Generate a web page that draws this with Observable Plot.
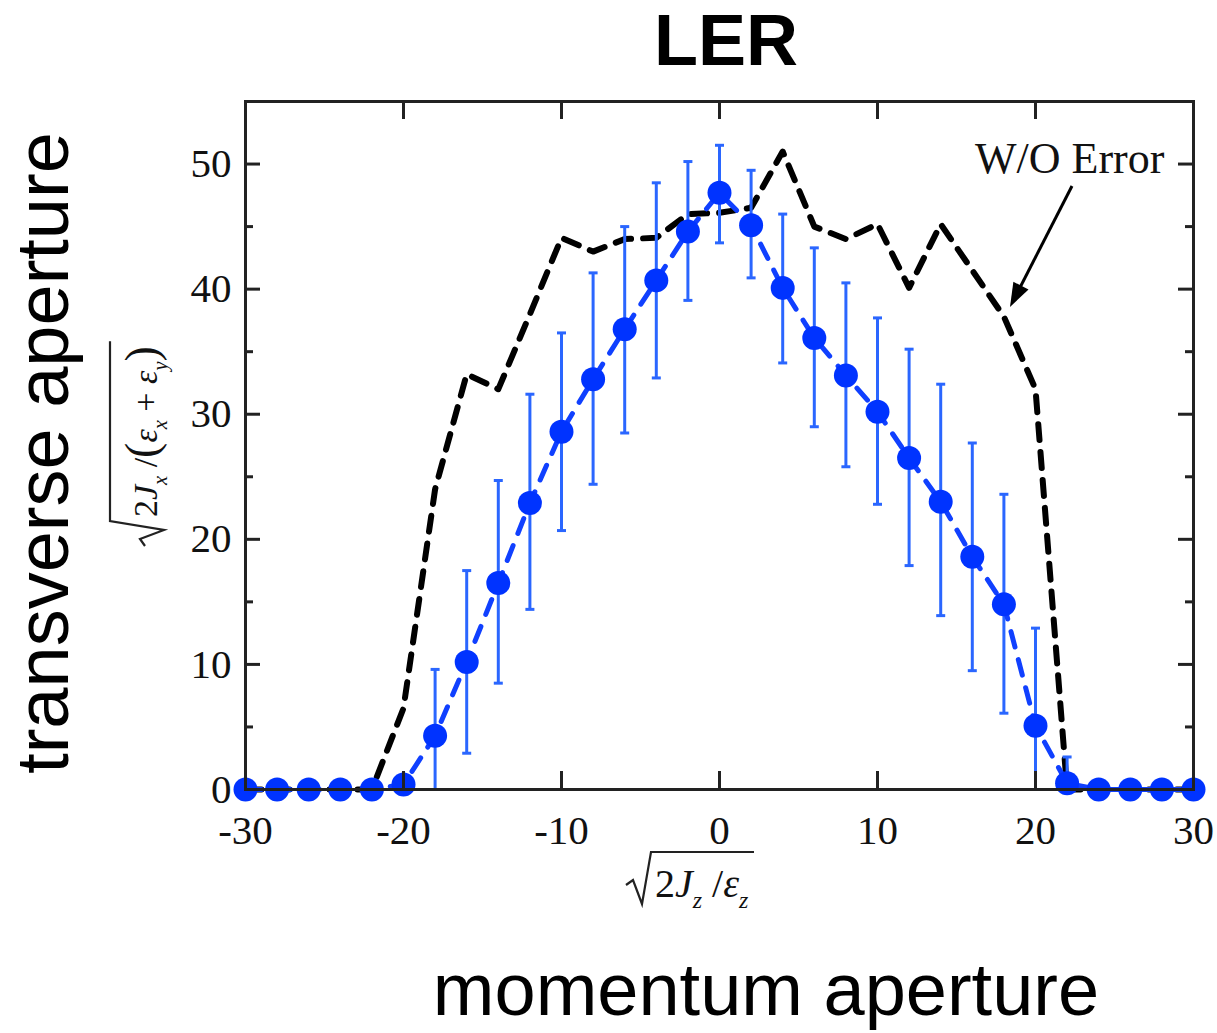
<!DOCTYPE html>
<html><head><meta charset="utf-8">
<script src="https://cdn.jsdelivr.net/npm/d3@7"></script>
<script src="https://cdn.jsdelivr.net/npm/@observablehq/plot@0.6"></script>
<style>body{margin:0;background:#fff} #chart svg{display:block}</style>
</head><body><div id="chart"></div>
<script>
// ---- data ----
const xs    = [-30,-28,-26,-24,-22,-20,-18,-16,-14,-12,-10,-8,-6,-4,-2,0,2,4,6,8,10,12,14,16,18,20,22,24,26,28,30];
const ys    = [0,0,0,0,0,0.4,4.3,10.2,16.5,22.9,28.6,32.8,36.8,40.7,44.6,47.7,45.1,40.1,36.1,33.1,30.2,26.5,23.0,18.6,14.8,5.1,0.5,0,0,0,0];
const errLo = [null,null,null,null,null,null,0,2.9,8.5,14.4,20.7,24.4,28.5,32.9,39.1,43.7,40.9,34.1,29.0,25.8,22.8,17.9,13.9,9.5,6.1,0,0,null,null,null,null];
const errHi = [null,null,null,null,null,null,9.6,17.5,24.7,31.6,36.5,41.3,45.0,48.5,50.2,51.5,49.5,46.0,43.3,40.5,37.7,35.2,32.4,27.7,23.6,12.9,2.6,null,null,null,null];
const refX  = [-30,-28,-26,-24,-22,-20,-18,-16,-14,-12,-10,-8,-6,-4,-2,0,2,4,6,8,10,12,14,16,18,20,22,24,26,28,30];
const refY  = [0,0,0,0,0,6.5,24,33.2,32,38,44.1,43,44,44.1,46,46.1,46.5,51,45,44,45.2,40.1,45.2,41.5,37.8,32,0,0,0,0,0];
const xTickVals  = [-30,-20,-10,0,10,20,30];
const xMajorTicks = [-20,-10,0,10,20];
const yTickVals  = [0,10,20,30,40,50];
const yMajorTicks = [10,20,30,40,50];
const yMinorTicks = [5,15,25,35,45];
const title = "LER";
const annotation = "W/O Error";
const leftTitle = "transverse aperture";
const bottomTitle = "momentum aperture";

// ---- layout ----
const W = 1217, H = 1033, mL = 245, mR = 24, mT = 101, mB = 244;
const innerW = W - mL - mR, innerH = H - mT - mB;

const data = xs.map((x, i) => ({x, y: ys[i], lo: errLo[i], hi: errHi[i]}));
const bars = data.filter(d => d.hi != null);
const ref = refX.map((x, i) => ({x, y: refY[i]}));

const cap = {draw(ctx) { ctx.moveTo(-4.5, 0); ctx.lineTo(4.5, 0); }};
const errColor = "#2a66ff";
const axisColor = "#222";
const fmt = d => String(d);

const chart = Plot.plot({
  width: W, height: H, marginLeft: mL, marginRight: mR, marginTop: mT, marginBottom: mB,
  style: {background: "#fff", fontFamily: "'Liberation Serif','Times New Roman',serif", fontSize: "41px", color: "#111"},
  x: {domain: [-30, 30]},
  y: {domain: [0, 55]},
  marks: [
    Plot.line(ref, {x: "x", y: "y", stroke: "#000", strokeWidth: 6, strokeDasharray: "16,12"}),
    Plot.ruleX(bars, {x: "x", y1: "lo", y2: "hi", stroke: errColor, strokeWidth: 3}),
    Plot.dot(bars, {x: "x", y: "hi", symbol: cap, fill: "none", stroke: errColor, strokeWidth: 3}),
    Plot.dot(bars, {x: "x", y: "lo", symbol: cap, fill: "none", stroke: errColor, strokeWidth: 3}),
    Plot.line(data, {x: "x", y: "y", stroke: "#1040ff", strokeWidth: 5, strokeDasharray: "16,13"}),
    Plot.dot(data, {x: "x", y: "y", r: 12, fill: "#0033ff"}),
    Plot.frame({stroke: axisColor, strokeWidth: 3}),
    Plot.tickX(xMajorTicks, {x: d => d, insetTop: innerH - 18, stroke: axisColor, strokeWidth: 3}),
    Plot.tickX(xMajorTicks, {x: d => d, insetBottom: innerH - 18, stroke: axisColor, strokeWidth: 3}),
    Plot.tickY(yMajorTicks, {y: d => d, insetRight: innerW - 15, stroke: axisColor, strokeWidth: 3}),
    Plot.tickY(yMajorTicks, {y: d => d, insetLeft: innerW - 15, stroke: axisColor, strokeWidth: 3}),
    Plot.tickY(yMinorTicks, {y: d => d, insetRight: innerW - 8, stroke: axisColor, strokeWidth: 3}),
    Plot.tickY(yMinorTicks, {y: d => d, insetLeft: innerW - 8, stroke: axisColor, strokeWidth: 3}),
    Plot.axisX({ticks: xTickVals, tickSize: 0, tickPadding: 25, tickFormat: fmt, label: null, fontSize: 41}),
    Plot.axisY({ticks: yTickVals, tickSize: 0, tickPadding: 14, tickFormat: fmt, label: null, fontSize: 41})
  ]
});
document.getElementById("chart").appendChild(chart);

// ---- decorations ----
const svg = d3.select(chart);
const sans = "'Liberation Sans', Arial, Helvetica, sans-serif";
const serif = "'Liberation Serif','Times New Roman',serif";

svg.append("text").attr("x", 726).attr("y", 65).attr("text-anchor", "middle")
  .attr("font-family", sans).attr("font-weight", "bold").attr("font-size", 72).attr("fill", "#000").text(title);

svg.append("text").attr("transform", "translate(68,453) rotate(-90)").attr("text-anchor", "middle")
  .attr("font-family", sans).attr("font-size", 74).attr("fill", "#000").text(leftTitle);

svg.append("text").attr("x", 766).attr("y", 1015).attr("text-anchor", "middle")
  .attr("font-family", sans).attr("font-size", 74).attr("fill", "#000").text(bottomTitle);

svg.append("text").attr("x", 975).attr("y", 173).attr("text-anchor", "start").attr("font-family", serif).attr("font-size", 44)
  .attr("fill", "#111").text(annotation);

// arrow
{
  const x1 = 1072, y1 = 186, tx = 1010, ty = 307;
  const dx = tx - x1, dy = ty - y1, len = Math.hypot(dx, dy);
  const ux = dx / len, uy = dy / len, px = -uy, py = ux;
  const hl = 24, hw = 8.5;
  const bx = tx - ux * hl, by = ty - uy * hl;
  svg.append("line").attr("x1", x1).attr("y1", y1).attr("x2", bx + ux * 4).attr("y2", by + uy * 4)
    .attr("stroke", "#000").attr("stroke-width", 3);
  svg.append("path").attr("d", `M${tx},${ty}L${bx + px * hw},${by + py * hw}L${bx - px * hw},${by - py * hw}Z`)
    .attr("fill", "#000");
}

function mathLabel(transform, parts, fs, over) {
  const g = svg.append("g").attr("transform", transform);
  const t = g.append("text").attr("x", 0).attr("y", 0).attr("text-anchor", "start")
    .attr("font-family", serif).attr("font-size", fs).attr("fill", "#111");
  let off = 0;
  for (const p of parts) {
    const target = p.sub ? 0.28 * fs : 0;
    const size = p.sub ? 0.6 * fs : p.big ? 1.35 * fs : fs;
    t.append("tspan").attr("dy", target - off).attr("font-size", size)
      .attr("font-style", p.i ? "italic" : "normal").text(p.t);
    off = target;
  }
  const b = t.node().getBBox();
  const x0 = b.x - 2;
  g.append("path").attr("d", `M${x0 - 27},${-12}L${x0 - 20},${-17}L${x0 - 11},${7}L${x0 - 2},${-over}L${b.x + b.width + 5},${-over}`)
    .attr("fill", "none").attr("stroke", "#222").attr("stroke-width", 2.2);
}

mathLabel("translate(655,897)", [
  {t: "2"}, {t: "J", i: true}, {t: "z", i: true, sub: true}, {t: " /"}, {t: "ε", i: true}, {t: "z", i: true, sub: true}
], 40, 45);

mathLabel("translate(157,517) rotate(-90)", [
  {t: "2"}, {t: "J", i: true}, {t: "x", i: true, sub: true}, {t: " /"}, {t: "(", big: true},
  {t: "ε", i: true}, {t: "x", i: true, sub: true}, {t: " + "}, {t: "ε", i: true}, {t: "y", i: true, sub: true}, {t: ")", big: true}
], 34, 47);
</script>
</body></html>
